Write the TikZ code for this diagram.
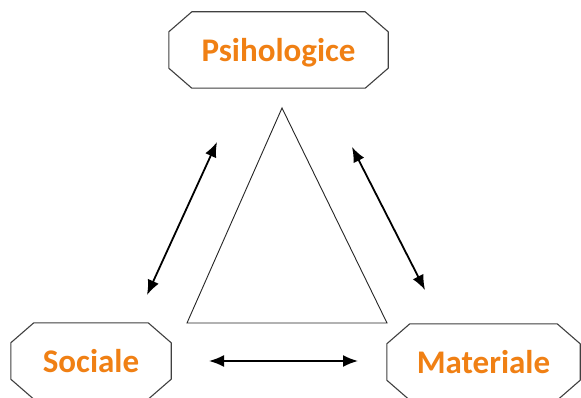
\documentclass[tikz,border=0pt]{standalone}
\usepackage{fontspec}
\setmainfont{Carlito}
\usetikzlibrary{arrows.meta}
\definecolor{labelorange}{RGB}{240,128,20}
\definecolor{boxgray}{RGB}{64,64,64}
\tikzset{
  boxnode/.style={minimum width=#1, minimum height=76pt, inner sep=0pt, text depth=0pt, font=\fontsize{33}{40}\selectfont\bfseries, text=labelorange},
  boxline/.style={draw=boxgray, line width=1.1pt},
  triline/.style={draw=black!85, line width=0.9pt},
  biarrow/.style={line width=1.8pt, {Latex[length=15pt,width=12pt]}-{Latex[length=15pt,width=12pt]}}
}
\newcommand\drawocta[1]{%
  \draw[boxline] ([xshift=23pt]#1.north west) -- ([xshift=-23pt]#1.north east)
    -- ([yshift=-20pt]#1.north east) -- ([yshift=20pt]#1.south east)
    -- ([xshift=-23pt]#1.south east) -- ([xshift=23pt]#1.south west)
    -- ([yshift=20pt]#1.south west) -- ([yshift=-20pt]#1.north west) -- cycle;}
\begin{document}
\begin{tikzpicture}[x=1pt,y=-1pt]
\useasboundingbox[fill=white] (0,0) rectangle (581,398);
\node[boxnode=219pt] (psi) at (278.5,50) {Psihologice};
\node[boxnode=160pt] (soc) at (91,361) {Sociale};
\node[boxnode=193pt] (mat) at (483.5,362) {Materiale};
\drawocta{psi}
\drawocta{soc}
\drawocta{mat}
\coordinate (apex) at (282,108);
\coordinate (bl) at (187,323);
\coordinate (br) at (387,323);
\draw[triline] (apex) -- (bl) -- (br) -- cycle;
\coordinate (la) at (147,295);
\coordinate (lb) at (217,142);
\coordinate (ra) at (352,147);
\coordinate (rb) at (425,290);
\coordinate (ba) at (209,361);
\coordinate (bb) at (358,361);
\draw[biarrow] (la) -- (lb);
\draw[biarrow] (ra) -- (rb);
\draw[biarrow] (ba) -- (bb);
\end{tikzpicture}
\end{document}
